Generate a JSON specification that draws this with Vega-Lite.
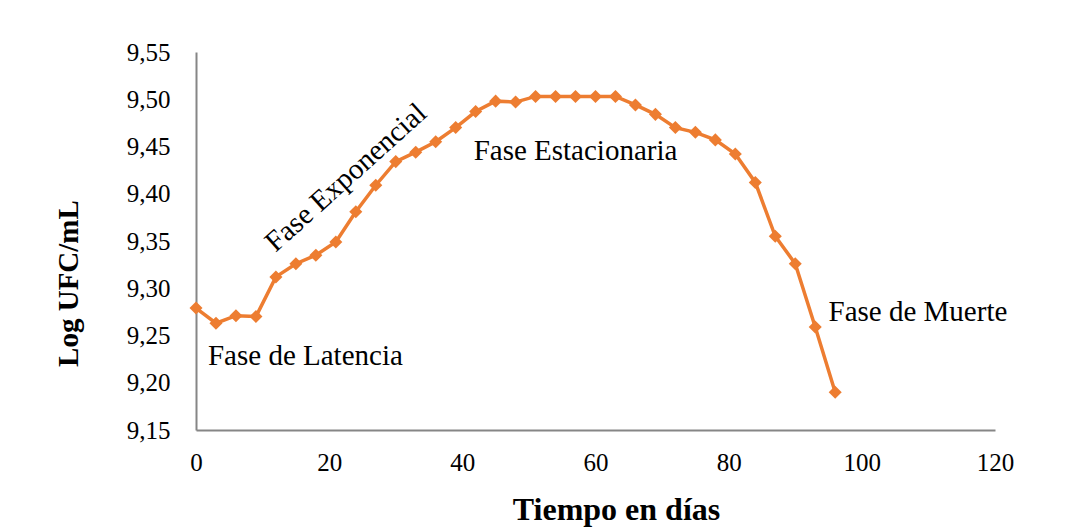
{
  "$schema": "https://vega.github.io/schema/vega-lite/v6.json",
  "width": 799,
  "height": 378,
  "autosize": {"type": "none"},
  "padding": {"left": 196, "top": 52, "right": 80, "bottom": 101},
  "background": "white",
  "config": {"view": {"stroke": null}},
  "datasets": {
    "curve": [
      {"dia": 0, "log": 9.279}, {"dia": 3, "log": 9.263}, {"dia": 6, "log": 9.271}, {"dia": 9, "log": 9.270},
      {"dia": 12, "log": 9.312}, {"dia": 15, "log": 9.326}, {"dia": 18, "log": 9.335}, {"dia": 21, "log": 9.349},
      {"dia": 24, "log": 9.381}, {"dia": 27, "log": 9.409}, {"dia": 30, "log": 9.434}, {"dia": 33, "log": 9.444},
      {"dia": 36, "log": 9.455}, {"dia": 39, "log": 9.470}, {"dia": 42, "log": 9.487}, {"dia": 45, "log": 9.498},
      {"dia": 48, "log": 9.497}, {"dia": 51, "log": 9.503}, {"dia": 54, "log": 9.503}, {"dia": 57, "log": 9.503},
      {"dia": 60, "log": 9.503}, {"dia": 63, "log": 9.503}, {"dia": 66, "log": 9.494}, {"dia": 69, "log": 9.484},
      {"dia": 72, "log": 9.470}, {"dia": 75, "log": 9.465}, {"dia": 78, "log": 9.457}, {"dia": 81, "log": 9.442},
      {"dia": 84, "log": 9.412}, {"dia": 87, "log": 9.355}, {"dia": 90, "log": 9.326}, {"dia": 93, "log": 9.259},
      {"dia": 96, "log": 9.190}
    ],
    "labels": [
      {"dia": 1.8, "log": 9.228, "texto": "Fase de Latencia"},
      {"dia": 41.7, "log": 9.445, "texto": "Fase Estacionaria"},
      {"dia": 95.0, "log": 9.275, "texto": "Fase de Muerte"}
    ],
    "rot": [
      {"dia": 22.5, "log": 9.417, "texto": "Fase Exponencial"}
    ]
  },
  "layer": [
    {
      "data": {"name": "curve"},
      "mark": {"type": "line", "color": "#ED7D31", "strokeWidth": 3.5},
      "encoding": {
        "x": {
          "field": "dia", "type": "quantitative",
          "scale": {"domain": [0, 120], "nice": false, "zero": false},
          "axis": {
            "title": "Tiempo en días", "values": [0, 20, 40, 60, 80, 100, 120],
            "grid": false, "ticks": false, "domainColor": "#868686", "domainWidth": 2,
            "labelFlush": false, "labelOverlap": false,
            "labelFont": "Liberation Sans Narrow", "labelFontSize": 25, "labelColor": "#000000",
            "labelPadding": 20,
            "titleFont": "Liberation Serif", "titleFontSize": 32, "titleFontWeight": "bold", "titleColor": "#000000",
            "titleX": 420, "titleY": 79, "titleBaseline": "middle", "titleAlign": "center"
          }
        },
        "y": {
          "field": "log", "type": "quantitative",
          "scale": {"domain": [9.15, 9.55], "nice": false, "zero": false},
          "axis": {
            "title": "Log UFC/mL", "values": [9.15, 9.2, 9.25, 9.3, 9.35, 9.4, 9.45, 9.5, 9.55],
            "labelExpr": "replace(format(datum.value, '.2f'), '.', ',')",
            "grid": false, "ticks": false, "domainColor": "#868686", "domainWidth": 2,
            "labelFlush": false, "labelOverlap": false,
            "labelFont": "Liberation Sans Narrow", "labelFontSize": 25, "labelColor": "#000000",
            "labelPadding": 26,
            "titleFont": "Liberation Serif", "titleFontSize": 29, "titleFontWeight": "bold", "titleColor": "#000000",
            "titleX": -128, "titleY": 231, "titleBaseline": "middle", "titleAlign": "center", "titleAngle": 270
          }
        }
      }
    },
    {
      "data": {"name": "curve"},
      "mark": {"type": "point", "shape": "diamond", "filled": true, "color": "#ED7D31", "size": 170, "opacity": 1},
      "encoding": {
        "x": {"field": "dia", "type": "quantitative"},
        "y": {"field": "log", "type": "quantitative"}
      }
    },
    {
      "data": {"name": "labels"},
      "mark": {"type": "text", "align": "left", "baseline": "middle", "font": "Liberation Serif", "fontSize": 29, "color": "#000000"},
      "encoding": {
        "x": {"field": "dia", "type": "quantitative"},
        "y": {"field": "log", "type": "quantitative"},
        "text": {"field": "texto"}
      }
    },
    {
      "data": {"name": "rot"},
      "mark": {"type": "text", "align": "center", "baseline": "middle", "font": "Liberation Serif", "fontSize": 29, "color": "#000000", "angle": 318},
      "encoding": {
        "x": {"field": "dia", "type": "quantitative"},
        "y": {"field": "log", "type": "quantitative"},
        "text": {"field": "texto"}
      }
    }
  ]
}
